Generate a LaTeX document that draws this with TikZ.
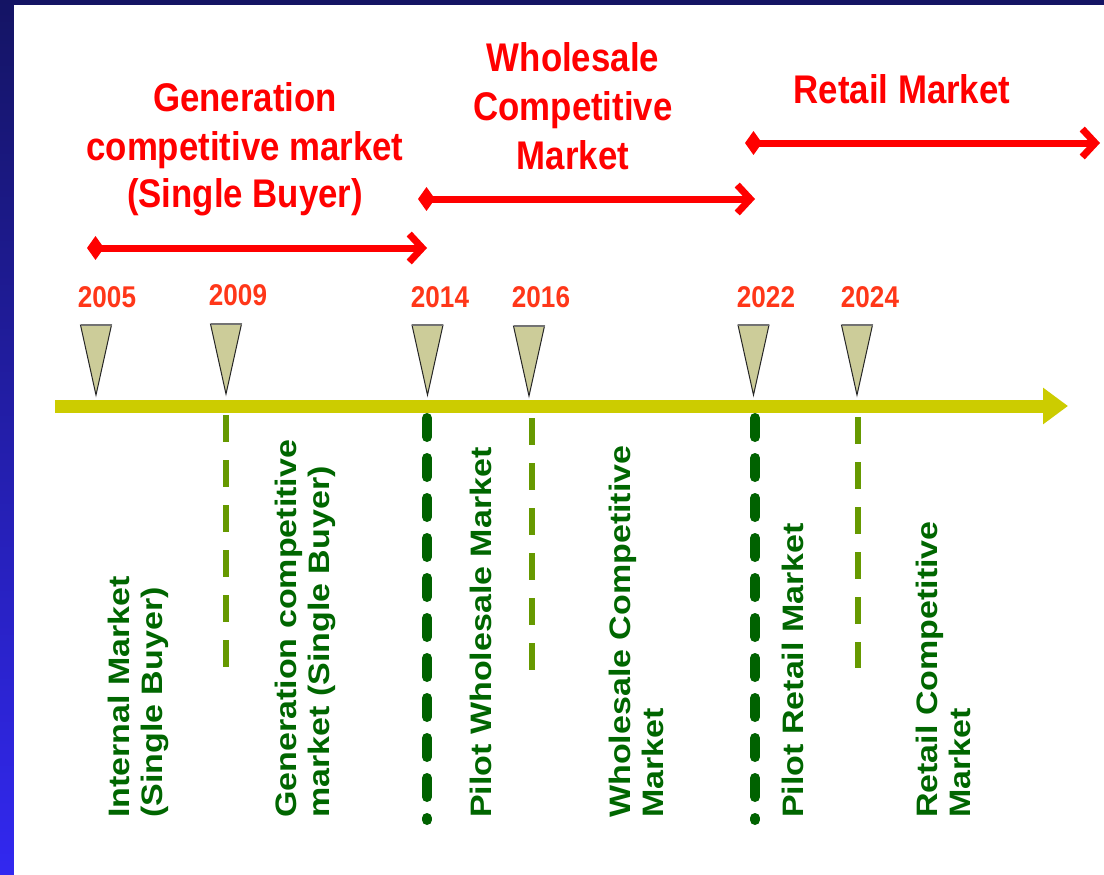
\documentclass[tikz,border=0pt]{standalone}
\usepackage{fontspec}
\setmainfont{Liberation Sans}
\usetikzlibrary{arrows.meta}
\definecolor{navyb}{RGB}{20,20,100}
\definecolor{brightb}{RGB}{50,40,240}
\definecolor{yeartxt}{RGB}{255,55,25}
\definecolor{axisc}{RGB}{204,204,0}
\definecolor{khaki}{RGB}{204,204,153}
\definecolor{darkg}{RGB}{0,98,0}
\definecolor{lightg}{RGB}{102,153,0}
\definecolor{txtg}{RGB}{0,102,0}
\begin{document}
\begin{tikzpicture}[x=1pt,y=-1pt,
  titletxt/.style={text=red, font=\fontsize{40}{48}\selectfont\bfseries, anchor=base, inner sep=0pt},
  yeartext/.style={text=yeartxt, font=\fontsize{30}{36}\selectfont\bfseries, anchor=base, inner sep=0pt},
  vtext/.style={text=txtg, font=\fontsize{34}{38}\selectfont\bfseries, rotate=90, anchor=west, inner sep=0pt},
  phasearrow/.style={draw=red, line width=7pt, {Diamond[length=17pt,width=24pt]}-{Straight Barb[length=13pt,width=28pt]}},
  axisline/.style={draw=axisc, line width=13pt, -{Triangle[length=25pt,width=35pt]}},
  marker/.style={fill=khaki, draw=black!85, line width=1pt, line join=miter},
  markertop/.style={draw=black!55, line width=2pt},
  majordash/.style={draw=darkg, line width=10pt, line cap=round, dash pattern=on 19pt off 21pt},
  minordash/.style={draw=lightg, line width=6pt, dash pattern=on 27pt off 18pt}
]
\useasboundingbox (0,0) rectangle (1104,875);
% frame
\shade[top color=navyb, bottom color=brightb] (0,0) rectangle (1104,875);
\fill[white] (14,5) rectangle (1104,875);

% phase titles
\node[titletxt] (tgen) at (245,112) {\scalebox{0.87}[1]{\begin{tabular}[t]{@{}c@{}}Generation\\competitive market\\(Single Buyer)\end{tabular}}};
\node[titletxt, font=\fontsize{40}{49}\selectfont\bfseries] (twhole) at (573,72) {\scalebox{0.87}[1]{\begin{tabular}[t]{@{}c@{}}Wholesale\\Competitive\\Market\end{tabular}}};
\node[titletxt] (tret) at (902,103) {\scalebox{0.87}[1]{Retail Market}};

% phase arrows
\coordinate (ga) at (87,248);
\coordinate (gb) at (427,248);
\coordinate (wa) at (418,199);
\coordinate (wb) at (755,199);
\coordinate (ra) at (745,143);
\coordinate (rb) at (1100,143);
\draw[phasearrow] (ga) -- (gb);
\draw[phasearrow] (wa) -- (wb);
\draw[phasearrow] (ra) -- (rb);

% years
\node[yeartext] (y2005) at (107,307) {\scalebox{0.87}[1]{2005}};
\node[yeartext] (y2009) at (238,305) {\scalebox{0.87}[1]{2009}};
\node[yeartext] (y2014) at (440,307) {\scalebox{0.87}[1]{2014}};
\node[yeartext] (y2016) at (541,307) {\scalebox{0.87}[1]{2016}};
\node[yeartext] (y2022) at (766,307) {\scalebox{0.87}[1]{2022}};
\node[yeartext] (y2024) at (870,307) {\scalebox{0.87}[1]{2024}};

% timeline axis
\coordinate (axs) at (55,406);
\coordinate (axe) at (1068,406);
\draw[axisline] (axs) -- (axe);

% markers (apex points)
\coordinate (m2005) at (96,395);
\coordinate (m2009) at (226,394);
\coordinate (m2014) at (427.5,395);
\coordinate (m2016) at (529,396);
\coordinate (m2022) at (753.5,395);
\coordinate (m2024) at (857,395);
\foreach \m in {m2005,m2009,m2014,m2016,m2022,m2024}{
  \draw[marker] (\m) -- ++(-15.5,-70) -- ++(31,0) -- cycle;
  \draw[markertop] (\m) ++(-15.5,-70) -- ++(31,0);
}

% dashed drop lines
\coordinate (d2009a) at (226,415);  \coordinate (d2009b) at (226,668);
\coordinate (d2016a) at (532,418);  \coordinate (d2016b) at (532,672);
\coordinate (d2024a) at (858,417);  \coordinate (d2024b) at (858,668);
\coordinate (d2014a) at (427,418);\coordinate (d2014b) at (427,820);
\coordinate (d2022a) at (755,418);\coordinate (d2022b) at (755,820);
\draw[minordash] (d2009a) -- (d2009b);
\draw[minordash] (d2016a) -- (d2016b);
\draw[minordash] (d2024a) -- (d2024b);
\draw[majordash] (d2014a) -- (d2014b);
\draw[majordash] (d2022a) -- (d2022b);

% vertical labels
\node[vtext] (l1) at (139.5,818) {\scalebox{1}[0.87]{\begin{tabular}{@{}l@{}}Internal Market\\(Single Buyer)\end{tabular}}};
\node[vtext] (l2) at (306.5,818) {\scalebox{1}[0.87]{\begin{tabular}{@{}l@{}}Generation competitive\\market (Single Buyer)\end{tabular}}};
\node[vtext] (l3) at (480.5,818) {\scalebox{1}[0.87]{Pilot Wholesale Market}};
\node[vtext] (l4) at (640,818) {\scalebox{1}[0.87]{\begin{tabular}{@{}l@{}}Wholesale Competitive\\Market\end{tabular}}};
\node[vtext] (l5) at (793,818) {\scalebox{1}[0.87]{Pilot Retail Market}};
\node[vtext] (l6) at (947,818) {\scalebox{1}[0.87]{\begin{tabular}{@{}l@{}}Retail Competitive\\Market\end{tabular}}};
\end{tikzpicture}
\end{document}
